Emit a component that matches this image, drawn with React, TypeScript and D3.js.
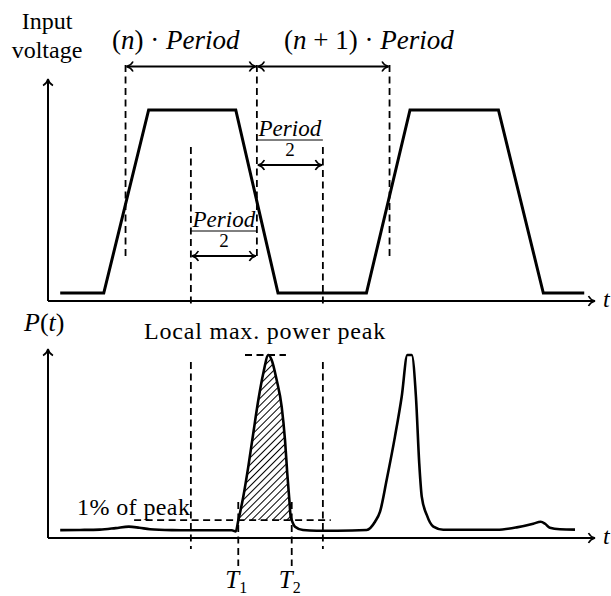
import React from 'react';
import * as d3 from 'd3';

const W = 611;
const H = 596;

// time axis: 100 units = one period
// input voltage waveform (normalised level)
const voltT = [10, 43, 77, 143, 175, 242, 275, 342, 376, 407];
const voltV = [0, 0, 1, 1, 0, 0, 1, 1, 0, 0];

// power trace, % of local max peak
const powerT = [10, 25, 40, 52, 62, 70, 78, 95, 108, 125, 140, 143, 145, 146.2, 148.7, 152.5, 156.3, 160.1, 163.9, 167.7,
  170.2, 174, 177.8, 180.3, 182, 183.6, 184.6, 185.4, 187.9, 193.9, 204.3, 220, 242.2, 248.5, 252.3, 257.3, 263.6,
  268.7, 273, 276.3, 279.5, 282, 283.9, 287.7, 292.7, 300.2, 340.7, 355.8, 368.4, 374, 377.3, 381, 388.6, 400];
const powerP = [4.3, 4.4, 4.6, 5.4, 6.2, 5.6, 4.8, 4.3, 4.2, 4.2, 4.2, 3.6, 9.8, 13.7, 22.6, 39, 57.4, 75.4, 90.2, 100,
  97.3, 86.3, 71.7, 53.6, 35.5, 20.8, 11.6, 9.8, 6.2, 4.4, 4.0, 4.0, 4.4, 8.9, 14.4, 31.7, 55.4,
  77.2, 100, 100, 77.2, 40.8, 22.6, 12.6, 6.2, 4.5, 4.5, 5.8, 7.8, 8.9, 7.8, 5.6, 4.8, 4.6];

// annotation positions (time units)
const periodMarks = [59.5, 159, 259.5];
const halfMarks = [109, 209];
const T1 = 144.9;
const T2 = 185.4;
const onePct = 9.8;
const onePctSpan = [66, 215];
const peakSpan = [150, 181];

const serif = 'Liberation Serif, serif';

export default function App() {
  const x = d3.scaleLinear().domain([0, 100]).range([47, 179]);
  const yV = d3.scaleLinear().domain([0, 1]).range([293, 110]);
  const yP = d3.scaleLinear().domain([0, 100]).range([538, 355]);

  const axisX0 = 48;
  const topAxisY = 301;
  const botAxisY = 538;
  const axisEnd = 595;

  const voltLine = d3.line<number>().x((d, i) => x(voltT[i])).y(d => yV(d))(voltV) || '';
  const pIdx = d3.range(powerT.length);
  const powerLine = d3.line<number>().x(i => x(powerT[i])).y(i => yP(powerP[i])).curve(d3.curveMonotoneX)(pIdx) || '';
  const powerArea = d3.area<number>().x(i => x(powerT[i])).y0(yP(onePct)).y1(i => yP(powerP[i])).curve(d3.curveMonotoneX)(pIdx) || '';

  const dashed = { stroke: '#000', strokeWidth: 1.8, strokeDasharray: '7 4.5', fill: 'none' };

  const fraction = (cx: number, x0: number, x1: number, yBar: number) => (
    <g>
      <text x={cx} y={yBar - 4} textAnchor="middle" fontSize={23} style={{ fontFamily: serif, fontStyle: 'italic' }}>Period</text>
      <line x1={x0} x2={x1} y1={yBar} y2={yBar} stroke="#000" strokeWidth={1} />
      <text x={cx} y={yBar + 16} textAnchor="middle" fontSize={19} style={{ fontFamily: serif }}>2</text>
    </g>
  );

  return (
    <svg width={W} height={H} style={{ position: 'absolute', left: 0, top: 0, background: '#fff', fontFamily: serif }}>
      <defs>
        <marker id="arr" viewBox="-8 -6 10 12" refX={0} refY={0} markerWidth={10} markerHeight={12}
          markerUnits="userSpaceOnUse" orient="auto-start-reverse">
          <path d="M -6.5,-5 C -5,-2 -2,-0.5 0,0 C -2,0.5 -5,2 -6.5,5" fill="none" stroke="#000" strokeWidth={1.6} />
        </marker>
        <pattern id="hatch" width={5} height={5} patternUnits="userSpaceOnUse" patternTransform="rotate(45)">
          <line x1={0.5} y1={0} x2={0.5} y2={5} stroke="#000" strokeWidth={1} />
        </pattern>
        <clipPath id="peakClip">
          <rect x={x(T1)} y={yP(100) - 5} width={x(T2) - x(T1)} height={yP(onePct) - yP(100) + 5} />
        </clipPath>
      </defs>

      {/* ---------- top panel: input voltage ---------- */}
      <text x={47} y={29} textAnchor="middle" fontSize={24}>Input</text>
      <text x={47} y={58} textAnchor="middle" fontSize={24}>voltage</text>

      <line x1={axisX0} x2={axisX0} y1={topAxisY} y2={79} stroke="#000" strokeWidth={2} markerEnd="url(#arr)" />
      <line x1={axisX0} x2={axisEnd} y1={topAxisY} y2={topAxisY} stroke="#000" strokeWidth={2} markerEnd="url(#arr)" />
      <text x={603} y={307} fontSize={24} fontStyle="italic">t</text>

      {periodMarks.map(t => (
        <line key={t} x1={x(t)} x2={x(t)} y1={65} y2={257} style={dashed} />
      ))}
      {halfMarks.map(t => (
        <line key={'h' + t} x1={x(t)} x2={x(t)} y1={147} y2={308} style={dashed} />
      ))}

      {periodMarks.slice(0, 2).map((t, i) => (
        <line key={'a' + t} x1={x(t) + 1} x2={x(periodMarks[i + 1]) - 1} y1={66.5} y2={66.5}
          stroke="#000" strokeWidth={2} markerStart="url(#arr)" markerEnd="url(#arr)" />
      ))}

      <text x={112} y={49} fontSize={27}>
        <tspan>(</tspan><tspan fontStyle="italic">n</tspan><tspan>{') \u00b7 '}</tspan><tspan fontStyle="italic">Period</tspan>
      </text>
      <text x={284} y={49} fontSize={27}>
        <tspan>(</tspan><tspan fontStyle="italic">n</tspan><tspan>{' + 1) \u00b7 '}</tspan><tspan fontStyle="italic">Period</tspan>
      </text>

      {fraction((x(periodMarks[1]) + x(halfMarks[1])) / 2, x(periodMarks[1]), x(halfMarks[1]), 140)}
      <line x1={x(periodMarks[1]) + 1} x2={x(halfMarks[1]) - 1} y1={165} y2={165}
        stroke="#000" strokeWidth={2} markerStart="url(#arr)" markerEnd="url(#arr)" />

      {fraction((x(halfMarks[0]) + x(periodMarks[1])) / 2, x(halfMarks[0]), x(periodMarks[1]), 231)}
      <line x1={x(halfMarks[0]) + 1} x2={x(periodMarks[1]) - 1} y1={256} y2={256}
        stroke="#000" strokeWidth={2} markerStart="url(#arr)" markerEnd="url(#arr)" />

      <path d={voltLine} fill="none" stroke="#000" strokeWidth={3} strokeLinejoin="miter" />

      {/* ---------- bottom panel: power ---------- */}
      <text x={24} y={331} fontSize={26}>
        <tspan fontStyle="italic">P</tspan><tspan>(</tspan><tspan fontStyle="italic">t</tspan><tspan>)</tspan>
      </text>
      <text x={144} y={339} fontSize={24} letterSpacing={0.8}>Local max. power peak</text>

      <line x1={axisX0} x2={axisX0} y1={botAxisY} y2={349} stroke="#000" strokeWidth={2} markerEnd="url(#arr)" />
      <line x1={axisX0} x2={axisEnd} y1={botAxisY} y2={botAxisY} stroke="#000" strokeWidth={2} markerEnd="url(#arr)" />
      <text x={603} y={544} fontSize={24} fontStyle="italic">t</text>

      {halfMarks.map(t => (
        <line key={'b' + t} x1={x(t)} x2={x(t)} y1={362} y2={549} style={dashed} />
      ))}

      <path d={powerArea} fill="url(#hatch)" clipPath="url(#peakClip)" />

      <line x1={x(onePctSpan[0])} x2={x(onePctSpan[1])} y1={yP(onePct)} y2={yP(onePct)} style={dashed} />
      <line x1={x(peakSpan[0])} x2={x(peakSpan[1])} y1={yP(100)} y2={yP(100)} style={dashed} />
      {[T1, T2].map(t => (
        <line key={'T' + t} x1={x(t)} x2={x(t)} y1={502} y2={566} style={dashed} />
      ))}

      <text x={77} y={515} fontSize={24} letterSpacing={0.4}>1% of peak</text>

      <path d={powerLine} fill="none" stroke="#000" strokeWidth={2.6} strokeLinejoin="round" />

      {[[T1, '1'], [T2, '2']].map(([t, s]) => (
        <text key={'lab' + s} x={x(t as number) - 2} y={588} textAnchor="middle" fontSize={25}>
          <tspan fontStyle="italic">T</tspan><tspan fontSize={16} dy={5}>{s}</tspan>
        </text>
      ))}
    </svg>
  );
}
